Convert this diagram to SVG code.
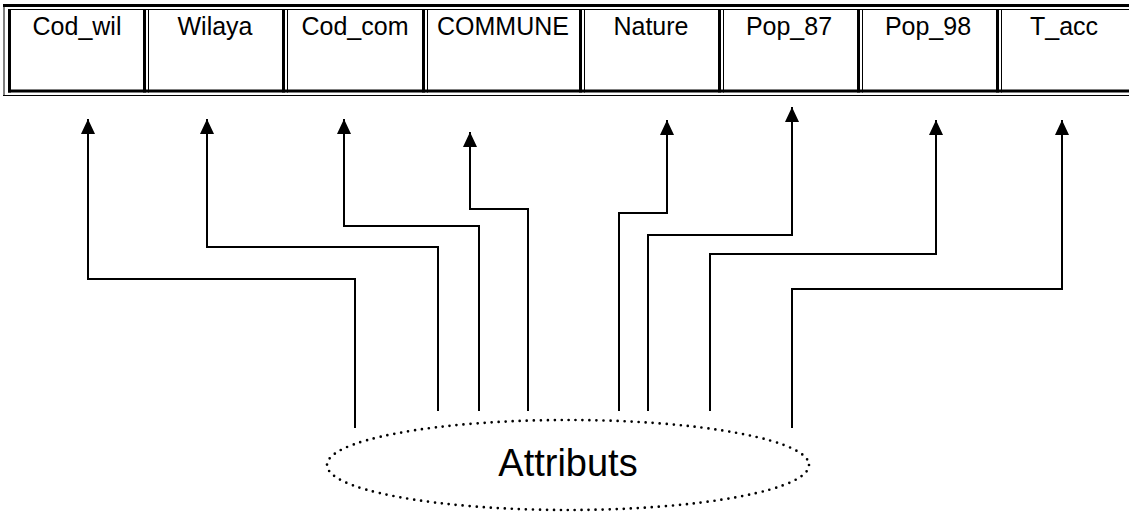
<svg xmlns="http://www.w3.org/2000/svg" width="1129" height="517" viewBox="0 0 1129 517">
<style>
.thick{stroke:#000;stroke-width:3;fill:none}
.thin{stroke:#000;stroke-width:1;fill:none}
.lbl{font-family:"Liberation Sans",Arial,sans-serif;font-size:25px;fill:#000;text-anchor:middle}
.conn{stroke:#000;stroke-width:2;fill:none;marker-end:url(#ah)}
.big{font-family:"Liberation Sans",Arial,sans-serif;font-size:38px;fill:#000;text-anchor:middle}
</style>
<defs>
<marker id="ah" markerUnits="userSpaceOnUse" markerWidth="16" markerHeight="16" viewBox="0 0 16 16" refX="15" refY="7.5" orient="auto">
<path d="M0,0.5 L15,7.5 L0,14.5 Z" fill="#000"/>
</marker>
</defs>
<rect width="1129" height="517" fill="#fff"/>
<g id="table">
<line class="thick" x1="3" y1="5.5" x2="1129" y2="5.5"/>
<line class="thin" x1="9" y1="9.5" x2="1129" y2="9.5"/>
<line class="thick" x1="8" y1="91" x2="1129" y2="91"/>
<line class="thin" x1="3" y1="95.5" x2="1129" y2="95.5"/>
<line class="thin" x1="4" y1="4" x2="4" y2="96"/>
<line class="thick" x1="9.5" y1="9" x2="9.5" y2="92.5"/>
<line class="thick" x1="144.5" y1="9" x2="144.5" y2="92.5"/><line class="thin" x1="148.5" y1="9" x2="148.5" y2="92.5"/>
<line class="thick" x1="283.5" y1="9" x2="283.5" y2="92.5"/><line class="thin" x1="287.5" y1="9" x2="287.5" y2="92.5"/>
<line class="thick" x1="423.5" y1="9" x2="423.5" y2="92.5"/><line class="thin" x1="427.5" y1="9" x2="427.5" y2="92.5"/>
<line class="thick" x1="580.5" y1="9" x2="580.5" y2="92.5"/><line class="thin" x1="584.5" y1="9" x2="584.5" y2="92.5"/>
<line class="thick" x1="719.5" y1="9" x2="719.5" y2="92.5"/><line class="thin" x1="723.5" y1="9" x2="723.5" y2="92.5"/>
<line class="thick" x1="858.5" y1="9" x2="858.5" y2="92.5"/><line class="thin" x1="862.5" y1="9" x2="862.5" y2="92.5"/>
<line class="thick" x1="997.5" y1="9" x2="997.5" y2="92.5"/><line class="thin" x1="1001.5" y1="9" x2="1001.5" y2="92.5"/>
</g>
<g id="cell-cod_wil"><text class="lbl" x="77" y="35">Cod_wil</text></g>
<g id="cell-wilaya"><text class="lbl" x="215" y="35">Wilaya</text></g>
<g id="cell-cod_com"><text class="lbl" x="355" y="35">Cod_com</text></g>
<g id="cell-commune"><text class="lbl" x="503" y="35">COMMUNE</text></g>
<g id="cell-nature"><text class="lbl" x="651" y="35">Nature</text></g>
<g id="cell-pop_87"><text class="lbl" x="789" y="35">Pop_87</text></g>
<g id="cell-pop_98"><text class="lbl" x="928" y="35">Pop_98</text></g>
<g id="cell-t_acc"><text class="lbl" x="1064" y="35">T_acc</text></g>
<g id="connectors">
<path class="conn" d="M355,428 V279 H88 V119"/>
<path class="conn" d="M438,411 V247 H207 V119"/>
<path class="conn" d="M479,411 V226 H344 V119"/>
<path class="conn" d="M528,411 V209 H470 V132"/>
<path class="conn" d="M619,411 V213 H667 V120"/>
<path class="conn" d="M648,411 V235 H792 V107"/>
<path class="conn" d="M710,411 V254 H936 V120"/>
<path class="conn" d="M792,428 V289 H1062 V120"/>
</g>
<g id="attributs">
<ellipse cx="568" cy="465" rx="241" ry="45" fill="none" stroke="#000" stroke-width="2.7" stroke-linecap="round" stroke-dasharray="0 7"/>
<text class="big" x="568" y="476">Attributs</text>
</g>
</svg>
